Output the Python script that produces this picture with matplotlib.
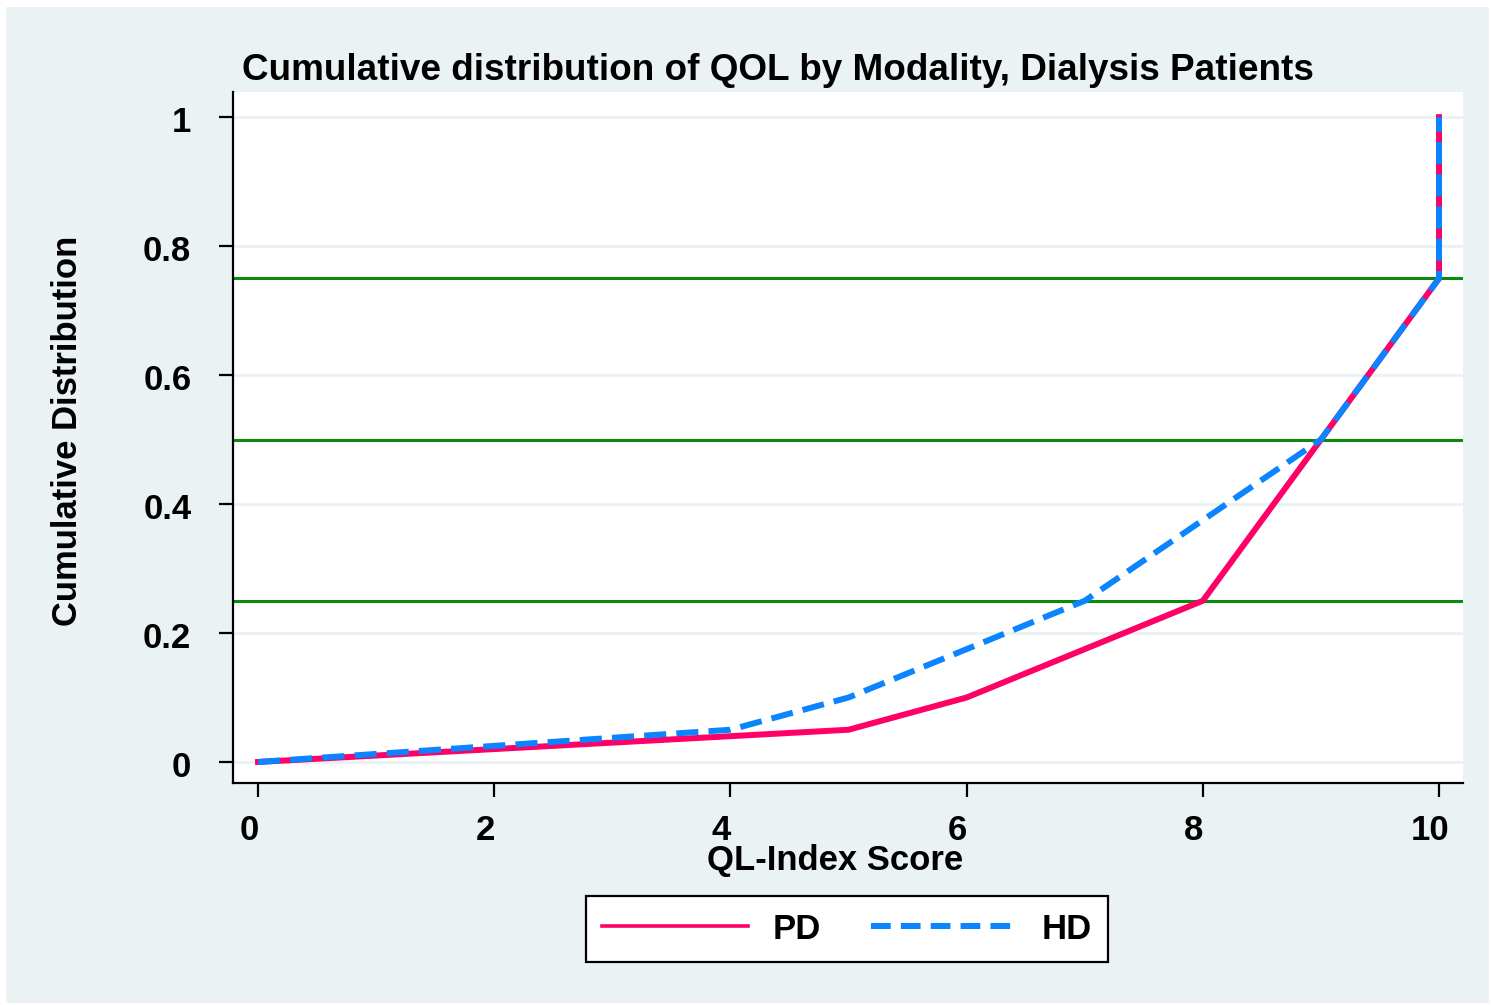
import matplotlib
matplotlib.use("Agg")
import matplotlib.pyplot as plt
from matplotlib.patches import Rectangle
from matplotlib.transforms import ScaledTranslation

# ---- data ----
pd_x = [0, 4, 5, 6, 8, 9, 10, 10]
pd_y = [0, 0.04, 0.05, 0.10, 0.25, 0.50, 0.75, 1.0]
hd_x = [0, 4, 5, 7, 9, 10, 10]
hd_y = [0, 0.05, 0.10, 0.25, 0.50, 0.75, 1.0]
quartiles = [0.25, 0.50, 0.75]
x_ticks = [0, 2, 4, 6, 8, 10]
y_ticks = [0, 0.2, 0.4, 0.6, 0.8, 1.0]
y_ticklabels = ["0", "0.2", "0.4", "0.6", "0.8", "1"]

W, H = 1491, 1005
plt.rcParams['font.family'] = ['Liberation Sans', 'DejaVu Sans']
plt.rcParams['font.weight'] = 'bold'

BG = '#EAF2F3'
PINK = '#FF0066'
BLUE = '#0A84FF'
GREEN = '#0A8C0A'

fig = plt.figure(figsize=(W / 100, H / 100), dpi=100, facecolor='white')
fig.patches.append(Rectangle((6 / W, 2 / H), 1483 / W, 996 / H, transform=fig.transFigure,
                             facecolor=BG, edgecolor='none', zorder=-10))

ax = fig.add_axes([233 / W, 1 - 783 / H, 1230 / W, 691 / H])
ax.set_facecolor('white')
ax.set_xlim(-0.212, 10.203)
ax.set_ylim(-0.0326, 1.039)

for s in ['top', 'right']:
    ax.spines[s].set_visible(False)
for s in ['left', 'bottom']:
    ax.spines[s].set_linewidth(1.6)
    ax.spines[s].set_color('black')

for yv in y_ticks:
    ax.axhline(yv, color=BG, lw=2.2, zorder=1)
for q in quartiles:
    ax.axhline(q, color=GREEN, lw=2.2, zorder=2)

ax.plot(pd_x, pd_y, color=PINK, lw=4.3, solid_joinstyle='miter', zorder=3, label='PD')
ax.plot(hd_x, hd_y, color=BLUE, lw=4.3, dashes=(3.7, 1.7), zorder=4, label='HD')

ax.set_xticks(x_ticks)
ax.set_xticklabels([str(v) for v in x_ticks])
ax.set_yticks(y_ticks)
ax.set_yticklabels(y_ticklabels)
ax.tick_params(axis='both', direction='out', length=10, width=1.6, color='black',
               labelsize=25, labelcolor='black')
ax.tick_params(axis='y', pad=20)
ax.tick_params(axis='x', pad=12)
for lab in ax.get_xticklabels():
    lab.set_fontweight('bold')
    lab.set_transform(lab.get_transform() + ScaledTranslation(-9 / 100, 0, fig.dpi_scale_trans))
for lab in ax.get_yticklabels():
    lab.set_fontweight('bold')
    lab.set_transform(lab.get_transform() + ScaledTranslation(0, -2 / 100, fig.dpi_scale_trans))

fig.text(242 / W, 1 - 70 / H, "Cumulative distribution of QOL by Modality, Dialysis Patients",
         ha='left', va='center', fontsize=26.6, fontweight='bold')
fig.text(835 / W, 1 - 860 / H, "QL-Index Score", ha='center', va='center',
         fontsize=24.9, fontweight='bold')
fig.text(68 / W, 1 - 431 / H, "Cumulative Distribution", ha='center', va='center',
         rotation=90, fontsize=24.9, fontweight='bold')

leg = ax.legend(loc='center', bbox_to_anchor=(847 / W, 1 - 929 / H),
                bbox_transform=fig.transFigure, ncol=2, frameon=True, fancybox=False,
                prop={'size': 25, 'weight': 'bold'}, handlelength=4.2, handletextpad=0.7,
                columnspacing=1.45, borderpad=0.48, borderaxespad=0)
leg.get_frame().set_edgecolor('black')
leg.get_frame().set_linewidth(1.6)
leg.get_frame().set_facecolor('white')
leg.get_frame().set_alpha(1)
leg.get_lines()[0].set_linewidth(2.6)
leg.get_lines()[1].set_linewidth(4.3)
leg.get_lines()[1].set_dashes((3.3, 1.7))

fig.savefig('out.png', dpi=100, facecolor=fig.get_facecolor())
